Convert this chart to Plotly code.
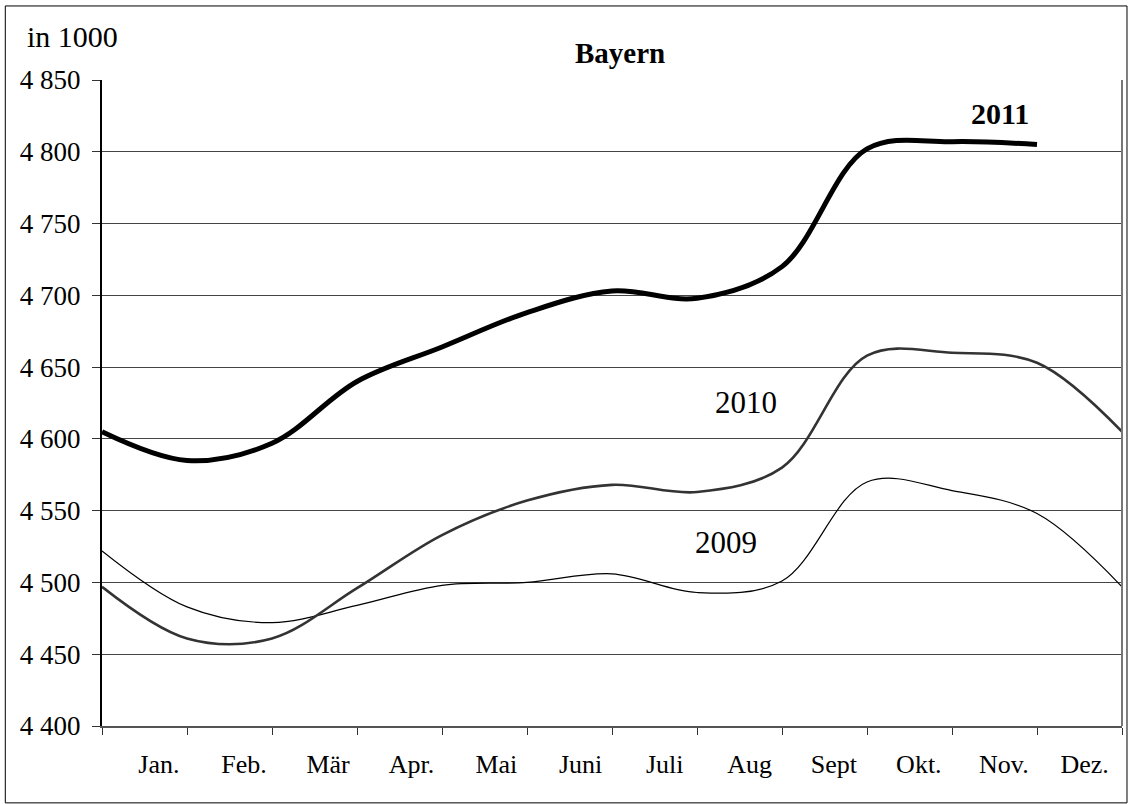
import plotly.graph_objects as go

# x positions: 0 = Dez. of previous year (left edge), 1..12 = end of Jan..Dez
months = ["Jan.", "Feb.", "Mär", "Apr.", "Mai", "Juni", "Juli", "Aug", "Sept", "Okt.", "Nov.", "Dez."]
# label anchor positions (category bands, slightly right of band centre as in the original)
month_label_pos = [0.67, 1.67, 2.66, 3.64, 4.64, 5.63, 6.62, 7.62, 8.61, 9.61, 10.61, 11.56]
x_pts_2009 = list(range(13))
x_pts_2010 = list(range(13))
x_pts_2011 = list(range(12))

v2009 = [4522, 4483, 4472, 4484, 4498, 4500, 4506, 4493, 4501, 4570, 4564, 4548, 4497]
v2010 = [4497, 4461, 4461, 4496, 4533, 4557, 4568, 4563, 4580, 4658, 4660, 4653, 4605]
v2011 = [4605, 4585, 4597, 4640, 4664, 4688, 4703, 4698, 4720, 4802, 4807, 4805]

y_ticks = [4400, 4450, 4500, 4550, 4600, 4650, 4700, 4750, 4800, 4850]
y_ticktext = ["4 400", "4 450", "4 500", "4 550", "4 600", "4 650", "4 700", "4 750", "4 800", "4 850"]

FONT = "Liberation Serif"

fig = go.Figure()
fig.add_trace(go.Scatter(x=x_pts_2009, y=v2009, mode="lines", line=dict(color="#000000", width=1.2, shape="spline", smoothing=1), name="2009"))
fig.add_trace(go.Scatter(x=x_pts_2010, y=v2010, mode="lines", line=dict(color="#333333", width=2.6, shape="spline", smoothing=1), name="2010"))
fig.add_trace(go.Scatter(x=x_pts_2011, y=v2011, mode="lines", line=dict(color="#000000", width=5, shape="spline", smoothing=1), name="2011"))

fig.update_layout(
    width=1129, height=804,
    margin=dict(l=102, r=7, t=80, b=78),
    paper_bgcolor="white", plot_bgcolor="white",
    showlegend=False,
    font=dict(family=FONT, color="black", size=26),
)

fig.update_xaxes(
    range=[0, 12],
    tickmode="array",
    tickvals=month_label_pos,
    ticktext=months,
    ticks="",
    ticklabelstandoff=14,
    tickfont=dict(family=FONT, size=26, color="black"),
    showgrid=False,
    zeroline=False,
    automargin=False,
    showline=True, linecolor="#555555", linewidth=2,
    minor=dict(tickmode="array", tickvals=list(range(13)), ticks="outside", ticklen=7, tickcolor="#333333", tickwidth=1, showgrid=False),
)

fig.update_yaxes(
    range=[4400, 4850],
    tickmode="array",
    tickvals=y_ticks,
    ticktext=y_ticktext,
    ticks="outside", ticklen=8, tickcolor="#333333", tickwidth=1,
    ticklabelstandoff=6,
    tickfont=dict(family=FONT, size=27, color="black"),
    showgrid=True, gridcolor="#444444", gridwidth=1,
    zeroline=False,
    automargin=False,
    showline=True, linecolor="#000000", linewidth=2,
)

# right border of plot area
fig.add_shape(type="line", xref="paper", yref="paper", x0=1, x1=1, y0=0, y1=1,
              line=dict(color="#777777", width=2))
# outer frame
fig.add_shape(type="rect", xref="paper", yref="paper",
              x0=-0.0948, x1=1.0049, y0=-0.119, y1=1.1146,
              line=dict(color="black", width=1))

fig.add_annotation(text="in 1000", xref="paper", yref="paper", x=-0.0752, y=1.068,
                   xanchor="left", yanchor="middle", showarrow=False,
                   font=dict(family=FONT, size=30, color="black"))
fig.add_annotation(text="<b>Bayern</b>", xref="paper", yref="paper", x=0.508, y=1.042,
                   xanchor="center", yanchor="middle", showarrow=False,
                   font=dict(family=FONT, size=29, color="black"))
fig.add_annotation(text="<b>2011</b>", x=10.565, y=4827, xanchor="center", yanchor="middle",
                   showarrow=False, font=dict(family=FONT, size=30, color="black"))
fig.add_annotation(text="2010", x=7.574, y=4625.5, xanchor="center", yanchor="middle",
                   showarrow=False, font=dict(family=FONT, size=31, color="black"))
fig.add_annotation(text="2009", x=7.339, y=4527.5, xanchor="center", yanchor="middle",
                   showarrow=False, font=dict(family=FONT, size=31, color="black"))

fig.write_html("out.html",
               config={"displayModeBar": False},
               post_script="document.body.style.margin='0';document.body.style.padding='0';document.body.style.overflow='hidden';")
